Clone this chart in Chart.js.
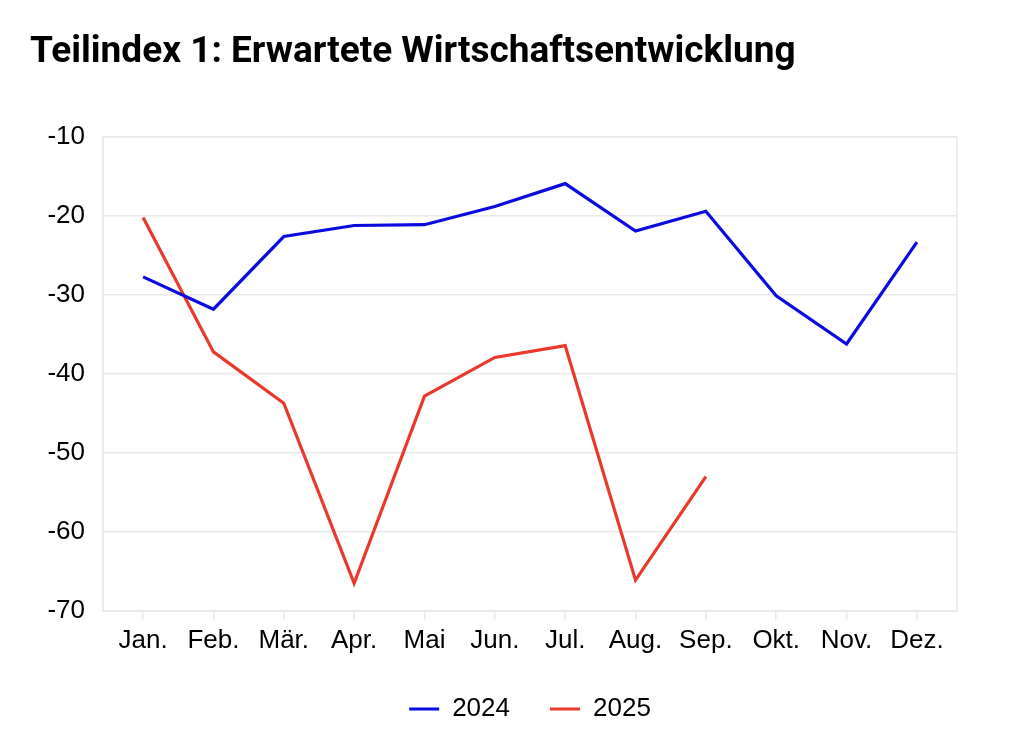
<!DOCTYPE html>
<html>
<head>
<meta charset="utf-8">
<script src="https://cdn.jsdelivr.net/npm/chart.js@4/dist/chart.umd.min.js"></script>
<style>
	html, body { margin: 0; padding: 0; background: #fff; }
	#wrap { width: 1024px; height: 756px; position: relative; }
</style>
</head>
<body>
<div id="wrap"><canvas id="chart"></canvas></div>
<script>
const months = ['Jan.', 'Feb.', 'Mär.', 'Apr.', 'Mai', 'Jun.', 'Jul.', 'Aug.', 'Sep.', 'Okt.', 'Nov.', 'Dez.'];
const values2024 = [-27.7, -31.8, -22.6, -21.2, -21.1, -18.8, -15.9, -21.9, -19.4, -30.1, -36.2, -23.3];
const values2025 = [-20.2, -37.2, -43.7, -66.5, -42.8, -37.9, -36.4, -66.1, -53.0];
const seriesNames = ['2024', '2025'];
const yTicks = [-70, -60, -50, -40, -30, -20, -10];

const labelFont = { family: "'Liberation Sans', Arial, sans-serif", size: 26 };
const gridColor = '#e9e9e9';

function toPoints(values) {
	return values.map((value, index) => ({ x: index, y: value }));
}

// frame round the plot area, like the reference
const frame = {
	id: 'frame',
	beforeDatasetsDraw(chart) {
		const { ctx, chartArea } = chart;
		ctx.save();
		ctx.strokeStyle = gridColor;
		ctx.lineWidth = 1.5;
		ctx.strokeRect(chartArea.left, chartArea.top, chartArea.right - chartArea.left, chartArea.bottom - chartArea.top);
		ctx.restore();
	},
};

new Chart(document.getElementById('chart'), {
	type: 'line',
	data: {
		datasets: [
			{
				label: seriesNames[0],
				data: toPoints(values2024),
				borderColor: '#0b0be0',
				backgroundColor: '#0b0be0',
			},
			{
				label: seriesNames[1],
				data: toPoints(values2025),
				borderColor: '#e8392b',
				backgroundColor: '#e8392b',
			},
		],
	},
	options: {
		responsive: true,
		maintainAspectRatio: false,
		animation: false,
		elements: {
			line: { borderWidth: 3.2, tension: 0 },
			point: { radius: 0 },
		},
		layout: {
			padding: { left: 30, right: 67, top: 0, bottom: 24 },
		},
		plugins: {
			title: {
				display: true,
				text: 'Teilindex 1: Erwartete Wirtschaftsentwicklung',
				align: 'start',
				color: '#000',
				font: { family: 'Roboto', weight: 'bold', size: 37 },
				padding: { top: 31, bottom: 61.6 },
			},
			legend: {
				position: 'bottom',
				fullSize: false,
				labels: {
					color: '#000',
					font: labelFont,
					boxWidth: 30,
					boxHeight: 0,
					padding: 40,
				},
			},
			tooltip: { enabled: false },
		},
		scales: {
			x: {
				type: 'linear',
				min: -0.57,
				max: 11.57,
				afterFit(scale) {
					scale.height = 45;
				},
				ticks: {
					stepSize: 1,
					includeBounds: false,
					autoSkip: false,
					maxRotation: 0,
					color: '#000',
					font: labelFont,
					padding: 5,
					callback: (value) => months[value],
				},
				grid: {
					drawOnChartArea: false,
					color: gridColor,
					lineWidth: 1.5,
					tickLength: 9,
				},
				border: { color: gridColor, width: 1.5 },
			},
			y: {
				min: -70,
				max: -10,
				afterFit(scale) {
					scale.width = 73;
				},
				afterBuildTicks(scale) {
					scale.ticks = yTicks.map((value) => ({ value }));
				},
				ticks: {
					color: '#000',
					font: labelFont,
					padding: 18,
				},
				grid: {
					color: gridColor,
					lineWidth: 1.5,
					tickLength: 0,
				},
				border: { color: gridColor, width: 1.5 },
			},
		},
	},
	plugins: [frame],
});
</script>
</body>
</html>
